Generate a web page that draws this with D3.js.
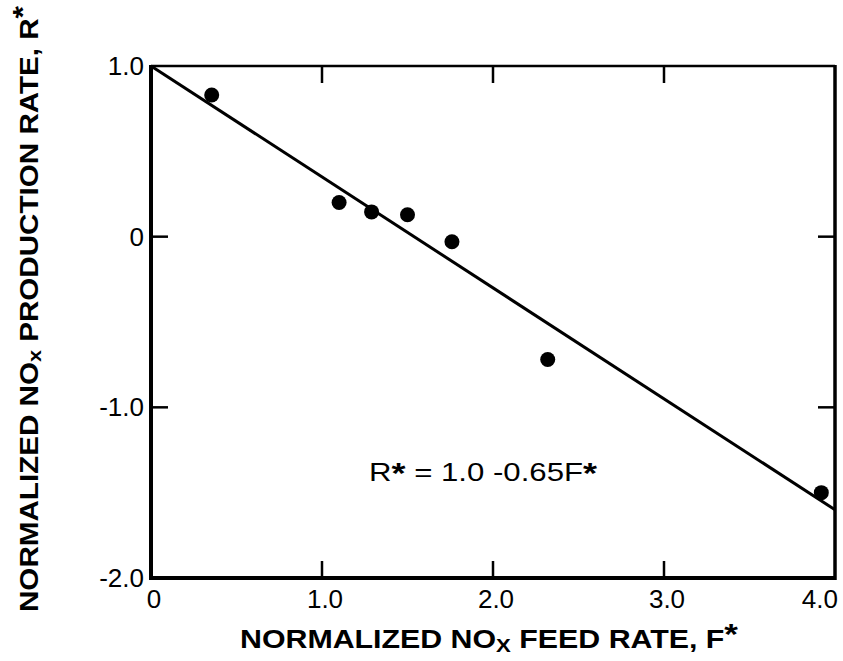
<!DOCTYPE html>
<html><head><meta charset="utf-8">
<script src="https://cdn.jsdelivr.net/npm/d3@7"></script>
<style>body{margin:0;background:#fff}svg{display:block}</style>
</head><body>
<svg id="c" width="843" height="661"></svg>
<script>
const feedRate = [0.355, 1.10, 1.29, 1.50, 1.76, 2.32, 3.92];
const prodRate = [0.83, 0.20, 0.145, 0.128, -0.03, -0.72, -1.50];
const fitF = [0, 4.0];
const fitR = fitF.map(f => 1.0 - 0.65 * f);
const xTicks = [0, 1, 2, 3, 4];
const xTickLabels = ["0", "1.0", "2.0", "3.0", "4.0"];
const yTicks = [1, 0, -1, -2];
const yTickLabels = ["1.0", "0", "-1.0", "-2.0"];

const svg = d3.select("#c");
const x = d3.scaleLinear().domain([0, 4]).range([151, 835]);
const y = d3.scaleLinear().domain([-2, 1]).range([578, 66]);
const font = "'Liberation Sans', Arial, sans-serif";

// frame
const g = svg.append("g").attr("stroke", "#000").attr("fill", "none");
g.append("line").attr("x1", x(0)).attr("x2", x(4)).attr("y1", y(1)).attr("y2", y(1)).attr("stroke-width", 2.5);
g.append("line").attr("x1", x(0)).attr("x2", x(4)).attr("y1", y(-2)).attr("y2", y(-2)).attr("stroke-width", 4);
g.append("line").attr("x1", x(0)).attr("x2", x(0)).attr("y1", y(1)-1).attr("y2", y(-2)+2).attr("stroke-width", 4);
g.append("line").attr("x1", x(4)).attr("x2", x(4)).attr("y1", y(1)-1).attr("y2", y(-2)+2).attr("stroke-width", 3.5);

// inward ticks
const tl = 17;
xTicks.slice(1, -1).forEach(t => {
  g.append("line").attr("x1", x(t)).attr("x2", x(t)).attr("y1", y(-2)).attr("y2", y(-2)-tl).attr("stroke-width", 2.5);
  g.append("line").attr("x1", x(t)).attr("x2", x(t)).attr("y1", y(1)).attr("y2", y(1)+tl).attr("stroke-width", 2.5);
});
yTicks.slice(1, -1).forEach(t => {
  g.append("line").attr("y1", y(t)).attr("y2", y(t)).attr("x1", x(0)).attr("x2", x(0)+tl).attr("stroke-width", 2.5);
  g.append("line").attr("y1", y(t)).attr("y2", y(t)).attr("x1", x(4)).attr("x2", x(4)-tl).attr("stroke-width", 2.5);
});

// tick labels
xTicks.forEach((t, i) => {
  const last = i === xTicks.length - 1;
  svg.append("text").attr("x", x(t) + 3).attr("y", 608)
    .attr("text-anchor", last ? "end" : "middle")
    .attr("font-family", font).attr("font-size", 26).text(xTickLabels[i]);
});
yTicks.forEach((t, i) => {
  svg.append("text").attr("x", 144).attr("y", y(t) + 9)
    .attr("text-anchor", "end")
    .attr("font-family", font).attr("font-size", 26).text(yTickLabels[i]);
});

// fit line
svg.append("line").attr("x1", x(fitF[0])).attr("y1", y(fitR[0]))
  .attr("x2", x(fitF[1])).attr("y2", y(fitR[1]))
  .attr("stroke", "#000").attr("stroke-width", 3);

// points
svg.selectAll("circle.pt").data(feedRate).enter().append("circle")
  .attr("cx", d => x(d)).attr("cy", (d, i) => y(prodRate[i]))
  .attr("r", 7.5).attr("fill", "#000");

// equation
const eq = svg.append("text").attr("x", 369).attr("y", 481)
  .attr("font-family", font).attr("font-size", 26)
  .attr("textLength", 228).attr("lengthAdjust", "spacingAndGlyphs");
eq.append("tspan").text("R");
eq.append("tspan").attr("font-size", 30).attr("font-weight", "bold").attr("dy", 2).text("*");
eq.append("tspan").attr("dy", -2).text(" = 1.0 -0.65F");
eq.append("tspan").attr("font-size", 30).attr("font-weight", "bold").attr("dy", 2).text("*");

// x axis title
const xt = svg.append("text").attr("x", 240).attr("y", 648)
  .attr("font-family", font).attr("font-size", 26).attr("font-weight", "bold")
  .attr("textLength", 498).attr("lengthAdjust", "spacingAndGlyphs");
xt.append("tspan").text("NORMALIZED NO");
xt.append("tspan").attr("font-size", 19).attr("dy", 4).text("X");
xt.append("tspan").attr("dy", -4).text(" FEED RATE, F");
xt.append("tspan").attr("font-size", 30).attr("dy", -4).text("*");

// y axis title
const yt = svg.append("text").attr("transform", "translate(38,612) rotate(-90)")
  .attr("x", 0).attr("y", 0)
  .attr("font-family", font).attr("font-size", 26).attr("font-weight", "bold")
  .attr("textLength", 606).attr("lengthAdjust", "spacingAndGlyphs");
yt.append("tspan").text("NORMALIZED NO");
yt.append("tspan").attr("font-size", 19).attr("dy", 3).text("x");
yt.append("tspan").attr("dy", -3).text(" PRODUCTION RATE, R");
yt.append("tspan").attr("font-size", 28).attr("dy", -6).text("*");
</script>
</body></html>
